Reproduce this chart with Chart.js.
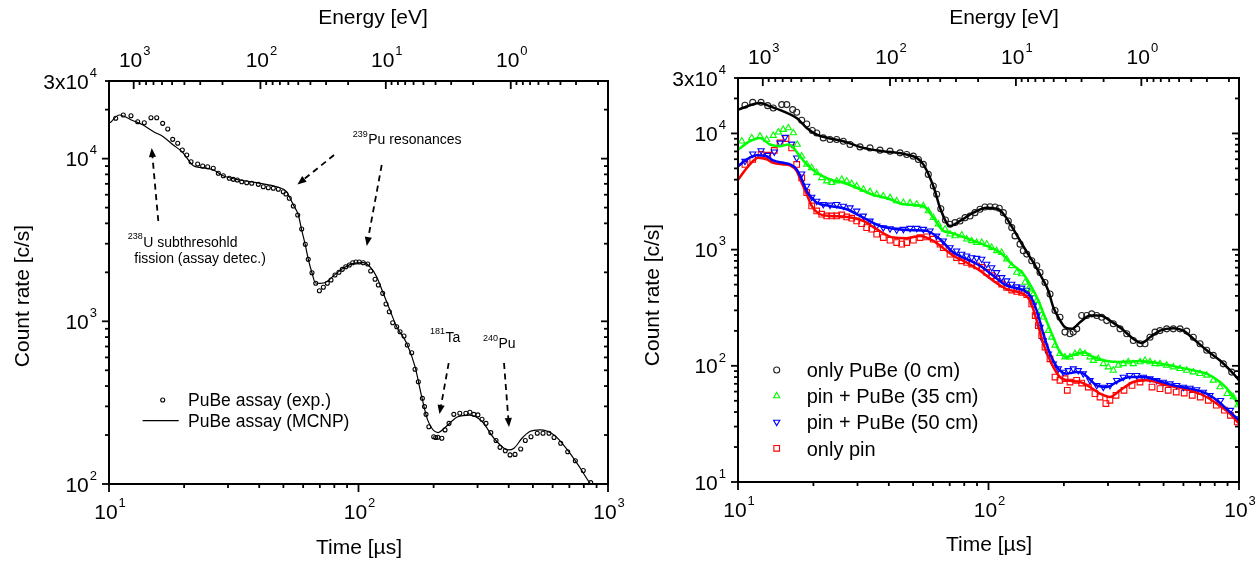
<!DOCTYPE html>
<html><head><meta charset="utf-8">
<script src="https://cdn.jsdelivr.net/npm/chart.js@4.4.1/dist/chart.umd.min.js"></script>
<style>
html,body{margin:0;padding:0;background:#fff;}
#wrap{position:relative;width:1260px;height:562px;overflow:hidden;background:#fff;}
#c1{position:absolute;left:0;top:0;}
#c2{position:absolute;left:630px;top:0;}
</style></head><body>
<div id="wrap"><canvas id="c1" width="630" height="562"></canvas><canvas id="c2" width="630" height="562"></canvas></div>
<script>
// ---------------- DATA ----------------
// Left panel: PuBe assay, experiment (points) and MCNP (line)
const timeExpL = [10.64,11.41,12.25,13.03,13.85,14.73,15.53,16.41,17.2,18.0,18.85,19.67,20.49,21.32,22.67,23.74,24.86,26.18,27.43,28.72,30.35,31.49,32.68,34.04,35.64,37.33,39.67,41.54,43.5,45.55,47.71,49.95,51.2,52.8,54.8,57.06,59.2,61.2,62.9,65.1,67.4,69.7,72.3,75.0,77.6,80.5,83.5,86.1,88.9,91.9,94.8,97.7,100.7,104.5,108.9,111.9,116.5,120.1,125.0,128.9,132.9,137.1,142.3,146.7,152.2,156.9,163.4,168.5,173.7,180.3,183.9,186.5,191.4,200.2,204,208,215.8,222.2,230.6,241,254.7,269.4,279.6,290,301,312.6,324.3,339.1,355.8,369.1,387.6,404.9,424,446.8,466.2,491.4,520.6,548.9,580,607.6,646.3,689.4,739.6,796,852.5];
const rateExpL = [17690,18540,18350,16860,16620,17840,17840,16480,15210,13140,12420,11300,10520,9570,9265,9005,8916,8717,8123,7853,7567,7460,7388,7211,7110,7050,6950,6720,6625,6568,6477,6260,6060,5702,5115,4503,3693,2974,2404,1990,1713,1542,1618,1713,1794,1925,2001,2087,2165,2218,2292,2315,2315,2292,2250,2038,1812,1672,1486,1277,1146,980,926,863,812,715,641,507,425,336,299,268,225,195,193,194,191,215,236,268,272,272,276,268,266,250,236,207,185,168,160,151,152,164,185,195,205,205,205,193,178,158,139,121,102];
const timeCalcL = [10.1,11.0,12.5,13.7,15.1,16.5,18.1,19.6,21.8,23.1,26.2,28.7,33.5,40.3,47.0,51.5,53.2,54.8,57.4,59.2,61.0,62.9,64.9,67.3,70.1,74.6,79.2,86.9,95.3,104.5,111.1,118.2,125.7,133.6,142.2,156.0,168.5,179.2,189.4,208,223.9,250,279.6,312.6,349.3,397,420,452,486,533,608,679,759,847,900];
const rateCalcL = [16620,18540,17100,16090,14630,13630,12120,11030,9045,8840,8510,7850,7390,7050,6710,6260,5700,5190,4500,3640,3015,2415,2018,1720,1713,1752,1898,2118,2272,2292,2165,1880,1486,1174,927,733,526,344,247,207,225,259,265,242,191,162,166,191,210,215,200,166,131,101,90];

// Right panel: only PuBe (0 cm)
const tPuBeExp = [10.66,11.45,12.36,13.14,13.83,14.95,15.65,16.53,17.15,17.96,18.81,19.8,20.62,21.9,23.29,24.77,26.33,28.0,30.69,33.65,36.89,40.45,44.35,47.15,50.1,52.5,54.92,57.5,60.2,62.1,64.5,67.3,70.2,73.5,76.96,80.6,84.4,88.3,92.5,96.8,101.4,106.2,110.4,114.6,120,123.8,127.6,133.6,137.7,142.1,148.8,155.8,160.6,168.1,176,184.3,192.9,202,211.5,218,225,235.5,246.6,258.2,270.4,283.1,296.4,314.9,335,356.3,378.4,402.6,421.5,441.2,462,483.7,514.4,546.9,581.5,618.3,657,698.8,743,789.5,865.7,935];
const cPuBeExp = [17460,18520,18520,17350,16550,17700,17700,16030,15200,12980,12060,10590,10100,9150,8866,8866,8575,8030,7660,7510,7177,7036,6805,6592,6375,5974,5412,4441,3525,2992,2250,1800,1655,1708,1766,1885,1950,2081,2225,2328,2342,2328,2269,2081,1766,1547,1313,1115,977,915,802,726,636,522,415,299,262,195,189,195,208,271,271,280,271,262,245,230,208,189,165,155,155,176,195,201,208,208,208,199,176,155,136,123,104,88.3];
const tPuBeCalc = [10.03,12.24,13.42,15.16,17.15,18.81,20.62,23.29,26.33,31.64,38.02,45.71,51.7,54.92,58.41,61.15,64.03,70.21,76.96,86.98,98.35,109.4,116.4,125.6,139.9,151,163.1,173.3,181.4,189.9,202,214.8,231.9,254.2,278.7,305.5,340.3,378.4,408.9,441.2,483.7,546.9,599.4,657,743,840,949,1000];
const cPuBeCalc = [16030,18260,17120,15500,13580,11150,9785,9045,8575,7510,7036,6672,6165,5412,4153,3194,2296,1600,1766,2081,2296,2225,1950,1499,1010,775,576,443,319,262,215,208,237,271,271,245,208,171,157,176,201,211,201,171,136,111,85.6,75];

// Right panel: pin + PuBe (35 cm)
const tPin35Exp = [10.35,11.34,12.24,13.02,13.83,14.49,15.16,15.88,16.63,17.25,17.96,18.81,19.69,20.62,21.58,22.6,23.66,24.77,25.94,27.16,28.44,29.78,31.64,33.65,35.79,38.02,40.45,43.0,45.71,48.6,51.7,54.92,57.5,60.2,63.0,67.05,70.2,73.5,78.2,81.8,85.7,89.7,94.0,98.35,103,107.8,112.9,118.2,123.8,129.6,135.7,139.9,144.2,151,155.8,160.6,165.5,173.3,178.8,184.3,192.9,202,211.5,221.5,231.9,242.8,254.2,262.1,274.3,287.3,300.8,314.9,329.7,345.2,361.5,378.4,402.6,421.5,441.2,462,483.7,514.4,546.9,581.5,618.3,657,698.8,743,789.5,840,897,949,990];
const cPin35Exp = [8575,9150,9463,8866,9594,10240,10800,11150,10100,8030,6375,5412,5059,4584,4153,3890,3763,3890,4024,3890,3689,3525,3303,3150,2992,2893,2798,2621,2535,2521,2456,2375,2152,1885,1655,1499,1358,1313,1331,1230,1190,1151,1151,1115,1042,977,944,829,726,636,617,522,458,415,364,299,262,201,176,150,127,119,119,127,131,127,119,111,115,104,97.5,91.3,101,104,108,104,108,111,108,104,104,101,97.5,94.4,91.3,88.3,85.6,82.8,75,65.7,57.6,53.9,46];
const tPin35Calc = [10.03,11.17,12.24,13.42,14.72,15.88,16.63,17.68,18.81,20.62,23.29,26.33,29.78,33.65,40.45,45.71,54.92,60.2,66.0,70.2,76.96,86.98,98.35,111.2,123.8,137.7,148.8,158.1,168.1,181.4,192.9,205.3,225,239,262.1,296.4,335,402.6,469.5,546.9,657,743,840,920,1000];
const cPin35Calc = [7278,8575,9150,8030,7766,8030,7510,6375,5412,4584,4024,3763,3409,3028,2711,2456,2375,1885,1450,1402,1313,1190,1078,944,751,617,473,364,262,176,131,119,127,131,119,110,108,110,106,99.4,91.3,85.6,72.5,59.5,45];

// Right panel: pin + PuBe (50 cm)
const tPin50Exp = [10.66,11.45,12.36,13.14,13.96,14.72,15.4,16.38,17.15,17.96,18.81,19.69,20.62,21.9,23.29,24.77,26.33,28.0,29.78,31.64,33.65,35.79,38.02,40.45,43.0,45.71,48.6,51.7,54.92,58.41,62.1,66.0,70.2,74.6,78.2,81.8,85.7,89.7,94.0,98.35,103,107.8,112.9,118.2,123.8,129.6,135.7,142.1,146.5,151,155.8,160.6,165.5,173.3,181.4,189.9,198.9,208.3,218,228.3,239,254.2,270.4,287.3,305.5,325,345.2,366.3,390.5,415,441.2,469.5,498.6,530.3,564,599.4,637.5,677.7,720.2,765.9,844,924,984];
const cPin50Exp = [5776,6672,7134,6501,6940,8288,9277,8128,6165,4495,3525,2837,2621,2456,2424,2456,2375,2296,2152,1950,1766,1600,1547,1517,1478,1499,1529,1529,1499,1450,1313,1190,1042,977,915,885,855,844,829,751,702,636,576,540,506,480,468,449,388,330,271,215,165,127,104,94.4,88.3,91.3,94.4,91.3,85.6,75,67.9,65.7,67.9,75,80,82.8,82.8,80,77.5,75,72.5,70.2,67.9,65.7,64.4,62.4,59.5,55.7,50.5,41.5,35.2];
const tPin50Calc = [10.03,10.83,11.88,13.02,13.83,15.16,16.13,17.15,17.96,18.81,19.98,20.62,23.29,27.16,31.64,36.89,43.0,50.1,56.7,64.03,72.4,81.8,92.5,104.5,118.2,137.7,146.5,155.8,165.5,176,189.9,205.3,225,239,270.4,296.4,325,366.3,415,469.5,546.9,639.7,743,814.7,903.6,1000];
const cPin50Calc = [5232,5974,6501,6375,5856,5585,5412,4902,4024,3194,2711,2535,2375,2225,1885,1600,1499,1470,1450,1230,944,829,726,596,489,449,402,299,189,127,94.4,85.6,88.3,85.6,67.9,65.7,72.5,80,80,75,67.9,63.6,57.6,50.5,41.5,34];

// Right panel: only pin
const tPinExp = [10.66,11.45,12.36,13.14,13.96,14.72,15.55,16.38,17.15,17.96,18.81,19.69,20.62,21.58,22.6,23.66,24.77,25.94,27.16,28.44,29.78,31.17,32.64,34.18,35.79,38.02,40.45,43.0,45.04,47.15,50.1,53.3,56.7,60.2,64.03,66.0,70.2,74.6,78.2,81.8,85.7,89.7,94.0,98.35,103,107.8,112.9,118.2,123.8,129.6,135.7,142.1,148.8,153.6,158.1,163.1,168.1,176,184.3,192.9,202,206.3,211.5,225,235.5,250.3,266.1,278.7,294.2,305.3,322.8,347.5,374.1,402.6,449.5,483.7,521.6,561.5,604.2,650.5,700.6,754.3,811.9,874.5,924,984];
const cPinExp = [5412,5974,6592,6501,7134,8288,9045,7510,5412,4153,3088,2375,2152,2016,1950,1950,1950,1988,1911,1863,1766,1674,1547,1499,1358,1270,1206,1151,1115,1151,1206,1270,1288,1230,1115,1042,915,855,802,775,751,726,702,636,596,559,506,473,449,437,429,410,341,271,222,182,145,115,80,75,77.5,61.5,72.5,75,71.1,65.7,57.6,53.9,47.3,50.5,55.7,61.5,67.9,72.5,65.7,63.6,61.5,59.5,58.3,55.7,53.9,50.5,45.8,41.5,37.5,32.9];
const tPinCalc = [10.03,11.0,12.05,13.02,13.83,15.16,16.13,17.15,17.96,18.81,19.69,21.25,23.29,27.16,31.64,35.79,41.69,47.15,53.3,60.2,68.1,72.4,81.8,92.5,104.5,118.2,137.7,146.5,155.8,165.5,178.8,192.9,206.3,231.9,254.2,278.7,305.5,335,378.4,427.8,514.4,639.7,743,840,920,1000];
const cPinCalc = [4024,5232,6165,5974,5585,5412,5305,4741,3763,2992,2375,2016,1950,1911,1766,1499,1270,1255,1313,1190,977,885,775,658,540,458,415,364,245,155,104,80,75,72.5,65.7,57.6,53.9,61.5,72.5,75,67.9,61.5,53.9,45,38.8,31.9];

// Axis tick labels
const timeTickValues = [10, 100, 1000];
const timeTickExps = ['1', '2', '3'];
const energyTickValues = [1000, 100, 10, 1];
const energyTickExps = ['3', '2', '1', '0'];
const countTickValuesL = [100, 1000, 10000, 30000];
const countTickBasesL = ['10', '10', '10', '3x10'];
const countTickExpsL = ['2', '3', '4', '4'];
const countTickValuesR = [10, 100, 1000, 10000, 30000];
const countTickBasesR = ['10', '10', '10', '10', '3x10'];
const countTickExpsR = ['1', '2', '3', '4', '4'];

// ---------------- helpers ----------------
const FF = '"Liberation Sans", Arial, Helvetica, sans-serif';
const K_E = 166400, T0_E = 0.34;            // E[eV] = K/(t+t0)^2 , t in microseconds
const tOfE = E => Math.sqrt(K_E / E) - T0_E;
const font = px => px + 'px ' + FF;
const zip = (xs, ys) => xs.map((x, i) => ({ x: x, y: ys[i] }));

function logTicks(min, max) {
  const out = [];
  for (let d = Math.floor(Math.log10(min)) - 1; d <= Math.ceil(Math.log10(max)); d++) {
    for (let m = 1; m <= 9; m++) {
      const v = m * Math.pow(10, d);
      if (v >= min * 0.9999 && v <= max * 1.0001) out.push([v, m === 1]);
    }
  }
  return out;
}

function drawPow(ctx, base, exp, x, y, align, fs) {
  ctx.font = font(fs); const wb = ctx.measureText(base).width;
  const fe = Math.round(fs * 0.6); ctx.font = font(fe); const we = ctx.measureText(exp).width;
  const w = wb + we + 1;
  const x0 = align === 'center' ? x - w / 2 : (align === 'right' ? x - w : x);
  ctx.textAlign = 'left'; ctx.textBaseline = 'alphabetic';
  ctx.font = font(fs); ctx.fillText(base, x0, y);
  ctx.font = font(fe); ctx.fillText(exp, x0 + wb + 1, y - fs * 0.56);
}

function drawIso(ctx, sup, main, x, y, fs) {
  ctx.textAlign = 'left'; ctx.textBaseline = 'alphabetic';
  let xx = x;
  if (sup) { ctx.font = font(9); ctx.fillText(sup, xx, y - 7.5); xx += ctx.measureText(sup).width + 0.5; }
  ctx.font = font(fs); ctx.fillText(main, xx, y);
}

function drawArrow(ctx, x1, y1, x2, y2) {
  const ang = Math.atan2(y2 - y1, x2 - x1);
  const hl = 9, hw = 3.6;
  const bx = x2 - hl * Math.cos(ang), by = y2 - hl * Math.sin(ang);
  ctx.save();
  ctx.lineWidth = 1.8; ctx.setLineDash([6, 4.5]);
  ctx.beginPath(); ctx.moveTo(x1, y1); ctx.lineTo(bx, by); ctx.stroke();
  ctx.setLineDash([]);
  ctx.beginPath();
  ctx.moveTo(x2, y2);
  ctx.lineTo(bx + hw * Math.sin(ang), by - hw * Math.cos(ang));
  ctx.lineTo(bx - hw * Math.sin(ang), by + hw * Math.cos(ang));
  ctx.closePath(); ctx.fill();
  ctx.restore();
}

function legendPoint(ctx, ds, x, y) {
  ctx.save();
  ctx.strokeStyle = ds.borderColor; ctx.fillStyle = 'rgba(0,0,0,0)'; ctx.lineWidth = ds.pointBorderWidth || 1;
  const opts = { pointStyle: ds.pointStyle, radius: ds.pointRadius, rotation: ds.pointRotation || 0, borderWidth: ds.pointBorderWidth || 1 };
  try { Chart.helpers.drawPoint(ctx, opts, x, y); }
  catch (e) { ctx.beginPath(); ctx.arc(x, y, ds.pointRadius, 0, Math.PI * 2); ctx.stroke(); }
  ctx.restore();
}

function makeFrame(o) {
  return {
    id: 'frame',
    afterDraw(chart) {
      const ctx = chart.ctx, a = chart.chartArea, xs = chart.scales.x, ys = chart.scales.y;
      ctx.save();
      ctx.strokeStyle = '#000'; ctx.fillStyle = '#000'; ctx.setLineDash([]);
      const seg = (x1, y1, x2, y2) => { ctx.beginPath(); ctx.moveTo(x1, y1); ctx.lineTo(x2, y2); ctx.stroke(); };
      ctx.lineWidth = 1.8;
      logTicks(xs.min, xs.max).forEach(([v, maj]) => {
        const p = xs.getPixelForValue(v); seg(p, a.bottom, p, a.bottom + (maj ? 8 : 4));
      });
      logTicks(0.1, 1e4).forEach(([E, maj]) => {
        const t = tOfE(E); if (t < xs.min || t > xs.max) return;
        const p = xs.getPixelForValue(t); seg(p, a.top, p, a.top + (maj ? 8 : 4));
      });
      logTicks(ys.min, ys.max).forEach(([v, maj]) => {
        const p = ys.getPixelForValue(v); const L = maj ? 7 : 4;
        seg(a.left - L, p, a.left, p); seg(a.right - L, p, a.right, p);
      });
      ctx.lineWidth = 2;
      ctx.strokeRect(a.left, a.top, a.right - a.left, a.bottom - a.top);

      // tick labels
      timeTickValues.forEach((v, i) => drawPow(ctx, '10', timeTickExps[i], xs.getPixelForValue(v) + 1, a.bottom + 35, 'center', 21));
      energyTickValues.forEach((E, i) => drawPow(ctx, '10', energyTickExps[i], xs.getPixelForValue(tOfE(E)) + 1, a.top - 14, 'center', 21));
      o.yVals.forEach((v, i) => drawPow(ctx, o.yBases[i], o.yExps[i], a.left - 12, ys.getPixelForValue(v) + 7.5, 'right', 21));

      // titles
      ctx.font = font(21); ctx.textAlign = 'center'; ctx.textBaseline = 'alphabetic';
      ctx.fillText('Energy [eV]', o.energyX, 24);
      ctx.fillText('Time [\u00b5s]', o.timeX, o.timeY);
      ctx.save(); ctx.translate(29, o.countY); ctx.rotate(-Math.PI / 2);
      ctx.fillText('Count rate [c/s]', 0, 0); ctx.restore();

      // annotations (anchored in data units)
      (o.annos || []).forEach(an => {
        drawIso(ctx, an.sup, an.text, xs.getPixelForValue(an.t), ys.getPixelForValue(an.c), 14);
      });
      (o.arrows || []).forEach(ar => {
        drawArrow(ctx, xs.getPixelForValue(ar[0]), ys.getPixelForValue(ar[1]), xs.getPixelForValue(ar[2]), ys.getPixelForValue(ar[3]));
      });

      // legend
      (o.legend || []).forEach(it => {
        const ds = chart.data.datasets[it.ds];
        if (it.kind === 'line') {
          ctx.save(); ctx.strokeStyle = ds.borderColor; ctx.lineWidth = ds.borderWidth;
          seg(it.x0, it.y, it.x1, it.y); ctx.restore();
        } else {
          legendPoint(ctx, ds, it.mx, it.y);
        }
        ctx.fillStyle = '#000'; ctx.font = font(o.legendFont); ctx.textAlign = 'left';
        ctx.fillText(ds.label, o.legendTextX, it.y + o.legendFont * 0.36);
      });
      ctx.restore();
    }
  };
}

const baseOpts = (ymin, ymax, pad) => ({
  responsive: false, animation: false, devicePixelRatio: 1, events: [],
  layout: { padding: pad },
  scales: {
    x: { type: 'logarithmic', min: 10, max: 1000, display: false },
    y: { type: 'logarithmic', min: ymin, max: ymax, display: false }
  },
  plugins: { legend: { display: false }, tooltip: { enabled: false } }
});

const markerSet = (label, t, c, color, style, r, rot, order) => ({
  label: label, data: zip(t, c), showLine: false, pointStyle: style, pointRadius: r, pointRotation: rot,
  pointBorderWidth: 1.1, borderColor: color, backgroundColor: 'rgba(0,0,0,0)', order: order
});
const lineSet = (label, t, c, color, w, order) => ({
  label: label, data: zip(t, c), showLine: true, pointRadius: 0, borderWidth: w, borderColor: color,
  backgroundColor: color, cubicInterpolationMode: 'monotone', order: order
});

// ---------------- LEFT CHART ----------------
new Chart(document.getElementById('c1'), {
  type: 'scatter',
  data: { datasets: [
    markerSet('PuBe assay (exp.)', timeExpL, rateExpL, '#000', 'circle', 2, 0, 1),
    lineSet('PuBe assay (MCNP)', timeCalcL, rateCalcL, '#000', 1.2, 0)
  ] },
  options: baseOpts(100, 30000, { left: 109, top: 81, right: 22, bottom: 78 }),
  plugins: [makeFrame({
    yVals: countTickValuesL, yBases: countTickBasesL, yExps: countTickExpsL,
    energyX: 373, timeX: 359, timeY: 554, countY: 296,
    annos: [
      { sup: '239', text: 'Pu resonances', t: 94.8, c: 12290 },
      { sup: '238', text: 'U subthresohld', t: 11.89, c: 2873 },
      { sup: '', text: 'fission (assay detec.)', t: 12.63, c: 2272 },
      { sup: '181', text: 'Ta', t: 193.5, c: 749 },
      { sup: '240', text: 'Pu', t: 315.5, c: 682 }
    ],
    arrows: [
      [79.8, 10520, 56.9, 6932],
      [123.9, 9135, 107.9, 2902],
      [15.76, 4134, 14.83, 11620],
      [229.9, 554, 211.2, 269],
      [383, 554, 401, 224]
    ],
    legendFont: 17.5, legendTextX: 188,
    legend: [
      { ds: 0, kind: 'point', mx: 162.7, y: 400 },
      { ds: 1, kind: 'line', x0: 142.6, x1: 178.7, y: 420.7 }
    ]
  })]
});

// ---------------- RIGHT CHART ----------------
new Chart(document.getElementById('c2'), {
  type: 'scatter',
  data: { datasets: [
    markerSet('only PuBe (0 cm)', tPuBeExp, cPuBeExp, '#222', 'circle', 3, 0, 4),
    markerSet('pin + PuBe (35 cm)', tPin35Exp, cPin35Exp, '#00ff00', 'triangle', 3.6, 0, 5),
    markerSet('pin + PuBe (50 cm)', tPin50Exp, cPin50Exp, '#0000ff', 'triangle', 3.6, 180, 6),
    markerSet('only pin', tPinExp, cPinExp, '#ff0000', 'rect', 4, 0, 7),
    lineSet('only PuBe calc', tPuBeCalc, cPuBeCalc, '#000', 2.5, 0),
    lineSet('pin + PuBe (35 cm) calc', tPin35Calc, cPin35Calc, '#00ff00', 2.5, 1),
    lineSet('pin + PuBe (50 cm) calc', tPin50Calc, cPin50Calc, '#0000ff', 2.5, 2),
    lineSet('only pin calc', tPinCalc, cPinCalc, '#ff0000', 2.5, 3)
  ] },
  options: baseOpts(10, 30000, { left: 108, top: 78, right: 21, bottom: 80 }),
  plugins: [makeFrame({
    yVals: countTickValuesR, yBases: countTickBasesR, yExps: countTickExpsR,
    energyX: 374, timeX: 359, timeY: 551, countY: 295,
    legendFont: 20, legendTextX: 176.7,
    legend: [
      { ds: 0, kind: 'point', mx: 146.7, y: 370 },
      { ds: 1, kind: 'point', mx: 146.7, y: 396 },
      { ds: 2, kind: 'point', mx: 146.7, y: 422 },
      { ds: 3, kind: 'point', mx: 146.7, y: 448.3 }
    ]
  })]
});
</script>
</body></html>
